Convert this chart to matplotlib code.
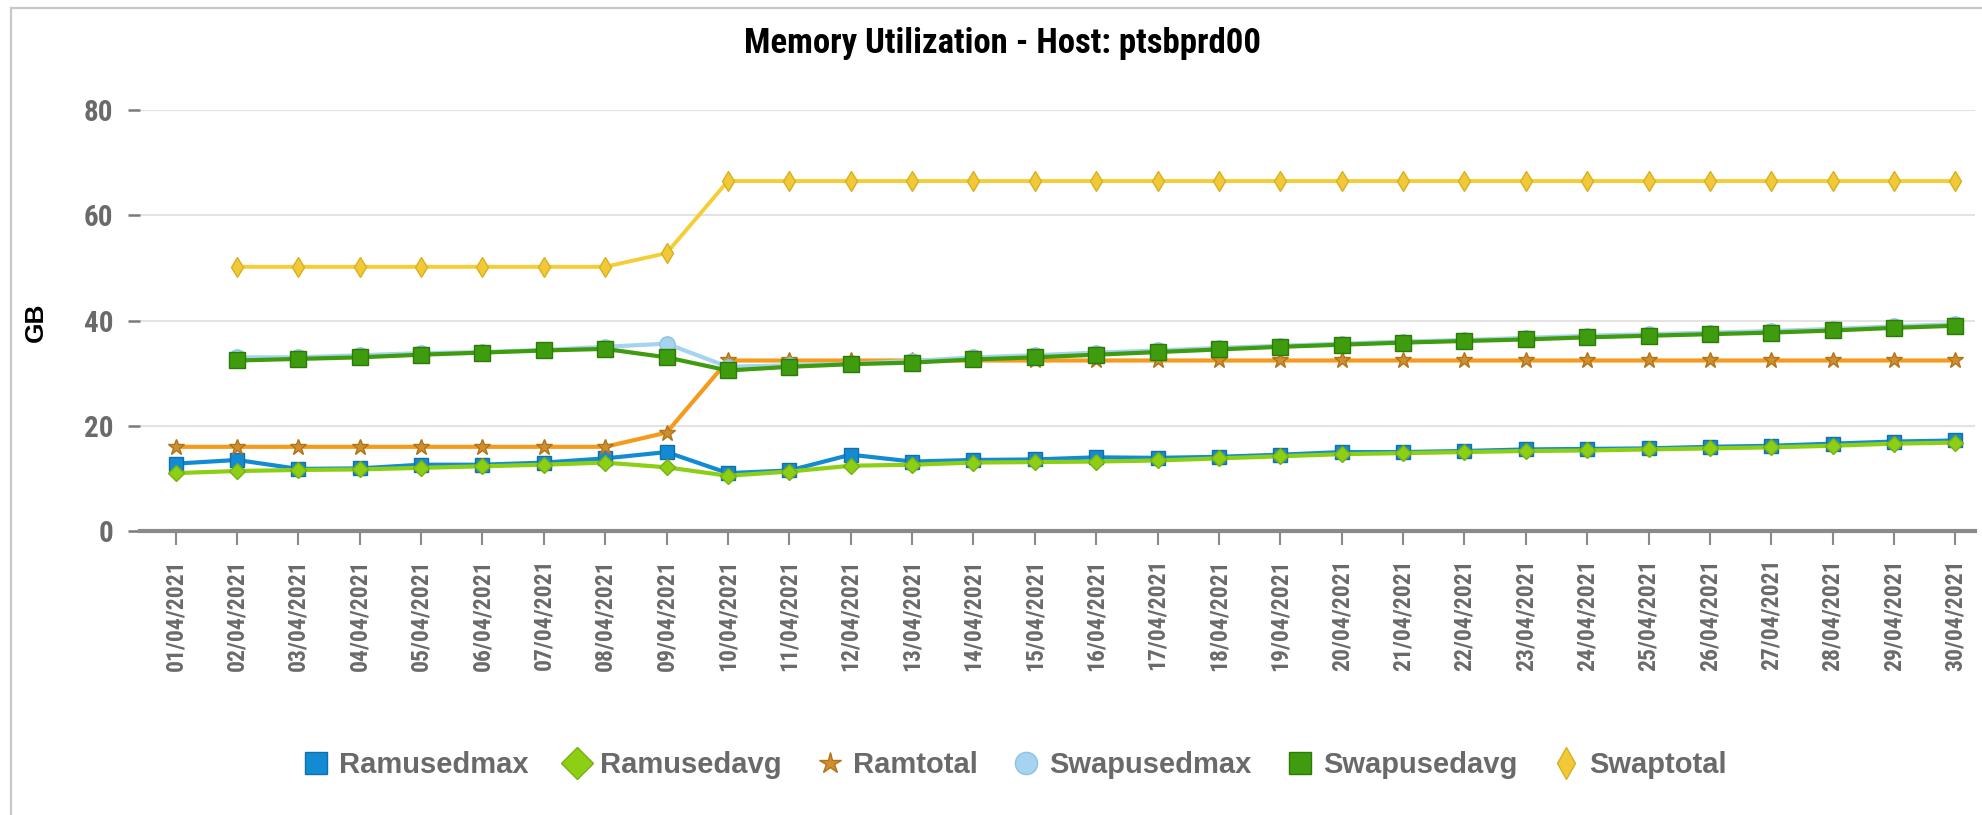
import matplotlib
matplotlib.use("Agg")
import matplotlib.pyplot as plt
from matplotlib.lines import Line2D
from matplotlib import font_manager as fm
import numpy as np

dates = [f"{d:02d}/04/2021" for d in range(1, 31)]

ramusedmax = [12.8, 13.5, 11.8, 11.9, 12.6, 12.6, 13.0, 13.8, 15.0, 11.0,
              11.5, 14.5, 13.2, 13.5, 13.6, 14.0, 13.9, 14.1, 14.5, 15.0,
              15.0, 15.2, 15.5, 15.6, 15.7, 16.0, 16.2, 16.6, 17.0, 17.2]
ramusedavg = [11.0, 11.4, 11.6, 11.7, 12.0, 12.3, 12.6, 13.0, 12.1, 10.5,
              11.3, 12.4, 12.6, 13.0, 13.1, 13.2, 13.4, 13.8, 14.2, 14.6,
              14.8, 15.0, 15.2, 15.3, 15.5, 15.7, 15.9, 16.2, 16.6, 16.8]
ramtotal = [16.0, 16.0, 16.0, 16.0, 16.0, 16.0, 16.0, 16.0, 18.7, 32.4,
            32.4, 32.4, 32.4, 32.4, 32.4, 32.4, 32.4, 32.4, 32.4, 32.4,
            32.4, 32.4, 32.4, 32.4, 32.4, 32.4, 32.4, 32.4, 32.4, 32.4]
swapusedmax = [np.nan, 33.0, 33.0, 33.4, 33.8, 34.0, 34.4, 35.0, 35.6, 31.2,
               31.5, 31.8, 32.3, 33.0, 33.4, 33.9, 34.3, 34.8, 35.2, 35.6,
               36.0, 36.3, 36.7, 37.1, 37.4, 37.7, 38.0, 38.4, 38.9, 39.3]
swapusedavg = [np.nan, 32.4, 32.7, 33.0, 33.5, 33.9, 34.3, 34.6, 33.0, 30.5,
               31.2, 31.7, 32.0, 32.6, 33.0, 33.5, 34.0, 34.5, 35.0, 35.4,
               35.8, 36.1, 36.4, 36.8, 37.1, 37.4, 37.7, 38.1, 38.6, 39.0]
swaptotal = [np.nan, 50.2, 50.2, 50.2, 50.2, 50.2, 50.2, 50.2, 52.8, 66.5,
             66.5, 66.5, 66.5, 66.5, 66.5, 66.5, 66.5, 66.5, 66.5, 66.5,
             66.5, 66.5, 66.5, 66.5, 66.5, 66.5, 66.5, 66.5, 66.5, 66.5]

series_names = ["Ramusedmax", "Ramusedavg", "Ramtotal",
                "Swapusedmax", "Swapusedavg", "Swaptotal"]

names = {f.name for f in fm.fontManager.ttflist}
narrow_candidates = ["Liberation Sans Narrow", "DejaVu Sans Condensed",
                     "Roboto Condensed", "Open Sans Condensed"]
narrow = [n for n in narrow_candidates if n in names]
NARROW = narrow[:1] + ["DejaVu Sans"]
HAS_NARROW = bool(narrow)
WIDE = ["Liberation Sans", "DejaVu Sans"]

W, H = 1983, 815
fig = plt.figure(figsize=(W / 100, H / 100), dpi=100)
fig.patch.set_facecolor("white")

fig.add_artist(Line2D([11 / W, 11 / W], [0, 1 - 8 / H], color="#c8c8c8", lw=1.6,
                      transform=fig.transFigure))
fig.add_artist(Line2D([11 / W, 1], [1 - 8 / H, 1 - 8 / H], color="#c8c8c8", lw=1.6,
                      transform=fig.transFigure))

ax_l, ax_r = 140 / W, 1975 / W
ax_b, ax_t = 1 - 531 / H, 1 - 110 / H
ax = fig.add_axes([ax_l, ax_b, ax_r - ax_l, ax_t - ax_b])

x = np.arange(len(dates))
styles = [
    dict(color="#138bd4", marker="s", ms=10, mfc="#138bd4", mec="#1170a8", lw=3),
    dict(color="#8ccf14", marker="D", ms=8, mfc="#8ccf14", mec="#78b010", lw=3),
    dict(color="#f59a1c", marker="*", ms=12, mfc="#d08e30", mec="#b07418", lw=3),
    dict(color="#a6d3ef", marker="o", ms=11, mfc="#a6d3ef", mec="#8fc2e4", lw=3),
    dict(color="#3e9c0e", marker="s", ms=11, mfc="#3e9c0e", mec="#2c7a08", lw=3),
    dict(color="#f5cd36", marker="d", ms=10, mfc="#f0c838", mec="#d8b020", lw=2.8),
]
data = [ramusedmax, ramusedavg, ramtotal, swapusedmax, swapusedavg, swaptotal]
for i, (name, vals, st) in enumerate(zip(series_names, data, styles)):
    ax.plot(x, vals, label=name, zorder=3 + i, clip_on=False, **st)

ax.set_xlim(-0.58, 29.32)
ax.set_ylim(0, 80)
ax.set_yticks([0, 20, 40, 60, 80])
ax.yaxis.grid(True, color="#e3e3e3", lw=1.5)
ax.set_axisbelow(True)
for s in ["top", "right", "left"]:
    ax.spines[s].set_visible(False)
ax.spines["bottom"].set_color("#8a8a8a")
ax.spines["bottom"].set_linewidth(3)
ax.spines["bottom"].set_zorder(2)

tick_size = 17 if HAS_NARROW else 13
ax.set_xticks(x)
ax.set_xticklabels(dates, rotation=90, fontfamily=NARROW, fontweight="bold",
                   fontsize=tick_size, color="#6a6a6a")
ax.tick_params(axis="x", length=10, width=1.5, color="#8a8a8a", pad=10)
ax.tick_params(axis="y", length=9, width=1.8, color="#7a7a7a", pad=10)
for lab in ax.get_yticklabels():
    lab.set_fontfamily(NARROW)
    lab.set_fontweight("bold")
    lab.set_fontsize(21 if HAS_NARROW else 17)
    lab.set_color("#6a6a6a")

fig.text(36 / W, 1 - 322 / H, "GB", rotation=90, ha="center", va="center",
         fontsize=19, fontweight="bold", family=WIDE, color="black")
fig.text(1002 / W, 1 - 44 / H, "Memory Utilization - Host: ptsbprd00",
         ha="center", va="center", fontsize=25 if HAS_NARROW else 19,
         fontweight="bold", family=NARROW, color="black")

leg = fig.legend(loc="center", bbox_to_anchor=(1016 / W, 1 - 765 / H), ncol=6,
                 frameon=False, handlelength=0.7, handletextpad=0.45,
                 columnspacing=1.3, prop=dict(family=WIDE, weight="bold", size=21))
for h in leg.legend_handles:
    h.set_linestyle("None")
    h.set_markersize(16)
for t in leg.get_texts():
    t.set_color("#6a6a6a")

fig.savefig("out.png", dpi=100, facecolor="white")
